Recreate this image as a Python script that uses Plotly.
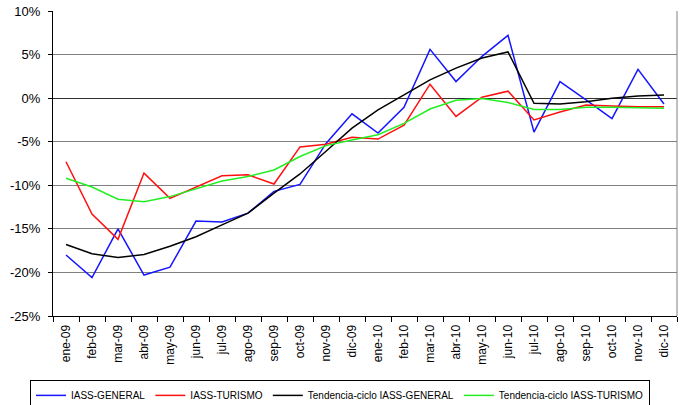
import plotly.graph_objects as go

months = ["ene-09", "feb-09", "mar-09", "abr-09", "may-09", "jun-09", "jul-09", "ago-09",
          "sep-09", "oct-09", "nov-09", "dic-09", "ene-10", "feb-10", "mar-10", "abr-10",
          "may-10", "jun-10", "jul-10", "ago-10", "sep-10", "oct-10", "nov-10", "dic-10"]

iass_general = [-18.0, -20.6, -15.0, -20.3, -19.4, -14.1, -14.2, -13.2, -10.7, -9.9, -5.2, -1.8,
                -4.0, -1.05, 5.6, 1.9, 4.8, 7.2, -3.9, 1.9, -0.2, -2.35, 3.3, -0.67]

iass_turismo = [-7.3, -13.3, -16.2, -8.6, -11.5, -10.2, -8.9, -8.8, -9.85, -5.6, -5.3, -4.5,
                -4.7, -3.1, 1.6, -2.1, 0.1, 0.8, -2.5, -1.6, -0.8, -0.9, -1.0, -1.0]

tend_general = [-16.8, -17.85, -18.3, -17.95, -17.0, -15.9, -14.55, -13.2, -10.9, -8.7, -6.1, -3.45,
                -1.35, 0.37, 2.1, 3.45, 4.6, 5.3, -0.6, -0.67, -0.4, 0.0, 0.25, 0.37]

tend_turismo = [-9.2, -10.2, -11.6, -11.9, -11.3, -10.4, -9.5, -9.0, -8.25, -6.7, -5.45, -4.8,
                -4.2, -2.9, -1.25, -0.25, -0.05, -0.5, -1.3, -1.3, -1.05, -1.05, -1.1, -1.16]

y_ticks = [-25, -20, -15, -10, -5, 0, 5, 10]
y_tick_labels = ["-25%", "-20%", "-15%", "-10%", "-5%", "0%", "5%", "10%"]

series = [
    ("IASS-GENERAL", iass_general, "#1515ff"),
    ("IASS-TURISMO", iass_turismo, "#ff1010"),
    ("Tendencia-ciclo IASS-GENERAL", tend_general, "#000000"),
    ("Tendencia-ciclo IASS-TURISMO", tend_turismo, "#22ee22"),
]

fig = go.Figure()
for name, vals, color in series:
    fig.add_trace(go.Scatter(x=months, y=vals, mode="lines", name=name,
                             line=dict(color=color, width=1.5)))

font_family = "Liberation Sans, Arial, sans-serif"

fig.update_layout(
    width=680, height=405,
    margin=dict(l=53, r=3, t=11, b=89),
    paper_bgcolor="white", plot_bgcolor="white",
    font=dict(family=font_family, color="black", size=13),
    showlegend=True,
    legend=dict(orientation="h", xref="container", yref="container",
                x=0.5, xanchor="center", y=0.062, yanchor="top",
                bordercolor="black", borderwidth=1, font=dict(size=10),
                itemwidth=30, tracegroupgap=0),
    xaxis=dict(
        type="category", tickangle=-90, tickfont=dict(size=12),
        showline=True, linecolor="black", linewidth=1,
        ticks="outside", tickson="boundaries", ticklen=5, tickcolor="black",
        showgrid=False, range=[-0.5, 23.5], automargin=False, ticklabelstandoff=3,
    ),
    yaxis=dict(
        range=[-25, 10], tickvals=y_ticks, ticktext=y_tick_labels,
        showline=True, linecolor="black", linewidth=1,
        ticks="outside", ticklen=4, tickcolor="black",
        showgrid=True, gridcolor="#808080", gridwidth=1,
        zeroline=True, zerolinecolor="#303030", zerolinewidth=1,
        tickfont=dict(size=13), automargin=False, ticklabelstandoff=5,
    ),
)

fig.add_shape(type="line", xref="paper", yref="paper", x0=1, x1=1, y0=0, y1=1,
              line=dict(color="#808080", width=1))

fig.write_html("out.html", config={"displayModeBar": False},
               post_script="document.body.style.margin='0px';document.body.style.overflow='hidden';")
